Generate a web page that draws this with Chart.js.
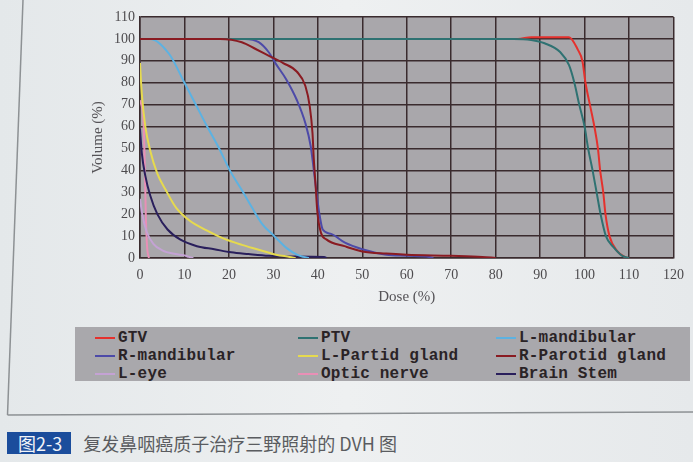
<!DOCTYPE html>
<html>
<head>
<meta charset="utf-8">
<script src="https://cdn.jsdelivr.net/npm/chart.js@4.4.1/dist/chart.umd.min.js"></script>
<style>
  body {
    margin: 0;
    width: 693px;
    height: 462px;
    overflow: hidden;
    background: linear-gradient(90deg, #e4e8ea 0%, #eef0f1 50%, #e6e9eb 100%);
    position: relative;
  }
  #frame {
    position: absolute;
    left: 0;
    top: 0;
  }
  #wrap {
    position: absolute;
    left: 0;
    top: 0;
    width: 693px;
    height: 310px;
  }
  #legend {
    position: absolute;
    left: 75px;
    top: 327px;
    width: 615px;
    height: 54px;
    background: #a9a8ac;
    display: grid;
    grid-template-columns: 203px 198px 214px;
    grid-auto-rows: 18px;
    padding-top: 2px;
    box-sizing: border-box;
    font-family: "Liberation Mono", "DejaVu Sans Mono", monospace;
    font-weight: bold;
    font-size: 16px;
    letter-spacing: 0.2px;
    color: #2a2326;
  }
  .item {
    display: flex;
    align-items: center;
    white-space: nowrap;
  }
  .item span.sw {
    display: inline-block;
    flex-shrink: 0;
    width: 20px;
    height: 2px;
    margin-left: 20px;
    margin-right: 3px;
  }
  #caption {
    position: absolute;
    left: 0;
    top: 432px;
    height: 22px;
    display: flex;
    align-items: center;
    font-family: "Noto Sans CJK SC", sans-serif;
  }
  #tag {
    background: #1b4d9c;
    color: #f2f4f8;
    font-size: 18px;
    height: 22px;
    line-height: 22px;
    padding: 0 9px 0 11px;
    margin-left: 7px;
  }
  #captext {
    color: #5a5c60;
    font-size: 18px;
    margin-left: 12px;
  }
</style>
</head>
<body>
<svg id="frame" width="693" height="462">
  <line x1="23" y1="0" x2="7.5" y2="415" stroke="#8d9194" stroke-width="1.5"/>
  <line x1="7.5" y1="415" x2="693" y2="412" stroke="#8d9194" stroke-width="1.5"/>
</svg>
<div id="wrap"><canvas id="dvh" width="693" height="310"></canvas></div>
<div id="legend"></div>
<div id="caption"><span id="tag">图2-3</span><span id="captext">复发鼻咽癌质子治疗三野照射的 DVH 图</span></div>

<script>
// [dose %, volume %]
const GTV = [[0,100],[85,100],[88,100.8],[96.5,100.8],[98.5,95],[99.5,90],[100.2,80],[101.3,69],[102.2,60],[103,50],[103.5,40],[104.2,30],[104.7,20],[105.6,10],[107.4,3],[109,0.5],[110,0]];
const PTV = [[0,100],[84,100],[88,99.5],[91,98],[94.5,94],[96.5,88],[97.7,80],[98.8,70],[100,60],[100.8,50],[101.8,40],[102.7,30],[103.6,20],[104.8,10],[106.5,5],[108.5,1],[110,0]];
const L_MANDIBULAR = [[0,100],[2.3,100],[6.6,93],[10,80],[12.8,69],[15.1,60],[17.8,50],[20.2,40],[22.9,31],[25.2,23],[27.5,15.5],[30.2,10],[33,4.5],[35.3,1.5],[36.8,0.5],[38,0]];
const R_MANDIBULAR = [[0,100],[23.6,100],[26.7,98.5],[29,93.8],[30.6,88.5],[32.9,81.5],[35.3,72],[37.2,61.5],[38.4,51],[39.1,40],[39.7,30],[40.3,20.8],[41.1,13],[43,11],[46.1,7],[50,4],[55.4,1.5],[60,1],[65,0.5],[66,0]];
const L_PARTID = [[0,89],[0.4,75],[1.2,60],[2.3,49],[3.9,38.5],[5.8,31],[8.1,23],[11.2,17],[15.1,12.5],[19,8.7],[22.9,6],[26.7,3.8],[30.6,1.5],[33.7,0.5],[35,0]];
const R_PAROTID = [[0,100],[18,100],[22.9,98.5],[26,95.4],[29,92.3],[32.2,89],[35.3,85],[37.2,78.5],[38.2,69],[38.8,57],[39.1,45],[39.5,33],[39.9,20.8],[40.7,11.5],[41.9,8.5],[46,5.4],[50,3],[55.4,2],[60,1.5],[70,1],[77,0.5],[80,0]];
const L_EYE = [[0,27],[0.5,20],[1.5,12],[3,6.5],[5,3.5],[8,1.8],[10,1.2],[11,0.5],[12,0]];
const OPTIC_NERVE = [[0,72],[0.8,62],[1.1,40],[1.3,20],[1.6,5],[2,0]];
const BRAIN_STEM = [[0,59],[0.4,48],[1.2,37.5],[2.3,28.5],[3.9,20],[6.2,13],[9,8.5],[12.8,5.4],[16.7,4],[20.5,2.6],[24.4,1.8],[29,1],[33.7,0.7],[41.4,0.5],[42,0]];

const doseTicks = [0, 10, 20, 30, 40, 50, 60, 70, 80, 90, 100, 110, 120];
const volumeTicks = [0, 10, 20, 30, 40, 50, 60, 70, 80, 90, 100, 110];

const series = [
  { label: "GTV", data: GTV, color: "#e5312d", order: 3 },
  { label: "PTV", data: PTV, color: "#2f7272", order: 2 },
  { label: "L-mandibular", data: L_MANDIBULAR, color: "#5cb2e2", order: 4 },
  { label: "R-mandibular", data: R_MANDIBULAR, color: "#4d4aa8", order: 5 },
  { label: "L-Partid gland", data: L_PARTID, color: "#e6da4e", order: 6 },
  { label: "R-Parotid gland", data: R_PAROTID, color: "#8a1b22", order: 1 },
  { label: "L-eye", data: L_EYE, color: "#c4a2d4", order: 8 },
  { label: "Optic nerve", data: OPTIC_NERVE, color: "#e98fb6", order: 9 },
  { label: "Brain Stem", data: BRAIN_STEM, color: "#2a1f5c", order: 7 }
];

const plotBg = {
  id: "plotBg",
  beforeDraw(chart) {
    const { ctx, chartArea } = chart;
    ctx.save();
    ctx.fillStyle = "#a9a7ab";
    ctx.fillRect(chartArea.left, chartArea.top, chartArea.right - chartArea.left, chartArea.bottom - chartArea.top);
    ctx.restore();
  }
};

const tickFont = { family: "'Liberation Serif', 'DejaVu Serif', serif", size: 14 };
const titleFont = { family: "'Liberation Serif', 'DejaVu Serif', serif", size: 15 };

new Chart(document.getElementById("dvh"), {
  type: "line",
  data: {
    datasets: series.map(s => ({
      label: s.label,
      data: s.data.map(p => ({ x: p[0], y: p[1] })),
      borderColor: s.color,
      backgroundColor: s.color,
      borderWidth: 2,
      pointRadius: 0,
      cubicInterpolationMode: "monotone",
      fill: false,
      order: s.order
    }))
  },
  options: {
    responsive: false,
    animation: false,
    layout: { padding: { left: 89, right: 17, top: 17, bottom: 4 } },
    plugins: {
      legend: { display: false },
      tooltip: { enabled: false }
    },
    scales: {
      x: {
        type: "linear",
        min: 0,
        max: 120,
        afterBuildTicks: scale => { scale.ticks = doseTicks.map(v => ({ value: v })); },
        afterFit: scale => { scale.height = 48; },
        grid: { color: "#3a2b2e", lineWidth: 1.5, drawTicks: false },
        border: { color: "#3a2b2e", width: 1.5 },
        ticks: { color: "#4d4b4e", font: tickFont, padding: 9, maxRotation: 0 },
        title: { display: true, text: "Dose (%)", color: "#555357", font: titleFont, padding: { top: 2, bottom: 0 } }
      },
      y: {
        type: "linear",
        min: 0,
        max: 110,
        afterBuildTicks: scale => { scale.ticks = volumeTicks.map(v => ({ value: v })); },
        afterFit: scale => { scale.width = 51; },
        grid: { color: "#3a2b2e", lineWidth: 1.5, drawTicks: false },
        border: { color: "#3a2b2e", width: 1.5 },
        ticks: { color: "#4d4b4e", font: tickFont, padding: 5 },
        title: { display: true, text: "Volume (%)", color: "#555357", font: titleFont, padding: 0 }
      }
    }
  },
  plugins: [plotBg]
});

// legend laid out in 3 columns like the figure
const legendBox = document.getElementById("legend");
series.forEach(s => {
  const item = document.createElement("div");
  item.className = "item";
  item.innerHTML = `<span class="sw" style="background:${s.color}"></span>${s.label}`;
  legendBox.appendChild(item);
});
</script>
</body>
</html>
